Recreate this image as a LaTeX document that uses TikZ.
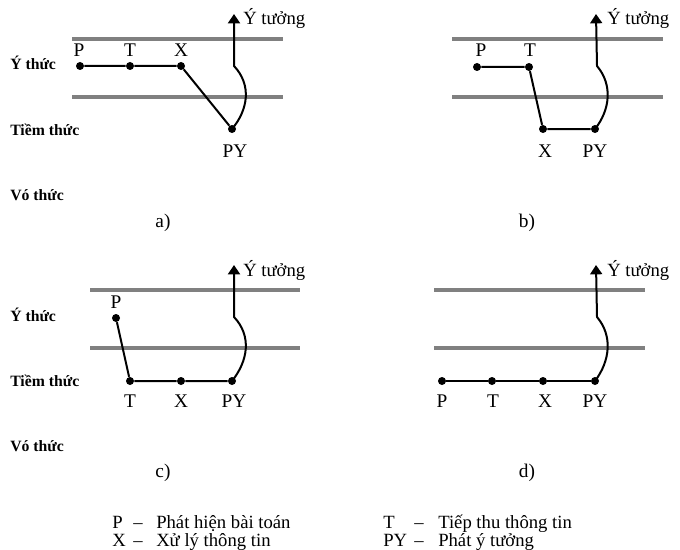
\documentclass[tikz,border=0pt]{standalone}
\usepackage{fontspec}
\setmainfont{Liberation Serif}
\usetikzlibrary{arrows.meta}
\definecolor{levelgray}{RGB}{128,128,128}
\tikzset{
	level/.style={draw=levelgray, line width=3.4pt},
	dot/.style={circle, fill=black, inner sep=0pt, minimum size=6pt},
	link/.style={draw=black, line width=1.5pt},
	idea/.style={draw=black, line width=1.5pt, -{Triangle[width=9pt,length=7pt]}},
	tag/.style={font=\fontsize{14.5}{16}\selectfont, inner sep=0pt, anchor=base},
	zone/.style={font=\bfseries\fontsize{11.8}{13}\selectfont, inner sep=0pt, anchor=base west},
	key/.style={font=\fontsize{14}{16}\selectfont, inner sep=0pt, anchor=base west},
}

\begin{document}
\begin{tikzpicture}[x=0.75pt,y=-0.75pt]
\useasboundingbox (0,0) rectangle (680,549);

% a)
\draw[level] (72,39) -- (283,39);
\draw[level] (72,97) -- (283,97);
\node[dot] (pa) at (80,66) {};
\node[dot] (ta) at (130,66) {};
\node[dot] (xa) at (181,66) {};
\node[dot] (pya) at (232,129) {};
\coordinate (ka) at (234,66);
\coordinate (ua) at (234,14);
\draw[link] (pa) -- (ta) -- (xa) -- (pya);
\draw[idea] (pya.center) .. controls (248,110) and (252,85) .. (ka) -- (ua);
\node[tag] (lpa) at (79,57) {P};
\node[tag] (lta) at (130,57) {T};
\node[tag] (lxa) at (181,57) {X};
\node[tag] (lpya) at (235,157) {PY};
\node[key] (ya) at (243,25) {Ý tưởng};
\node[zone] (ytha) at (10,70) {Ý thức};
\node[zone] (ttha) at (10,135) {Tiềm thức};
\node[zone] (vtha) at (10,200) {Vó thức};
\node[tag] (capa) at (163,227) {a)};

% b)
\draw[level] (452,39) -- (663,39);
\draw[level] (452,97) -- (663,97);
\node[dot] (pb) at (477,67) {};
\node[dot] (tb) at (529,67) {};
\node[dot] (xb) at (543,129) {};
\node[dot] (pyb) at (595,129) {};
\coordinate (kb) at (597,66);
\coordinate (ub) at (596,14);
\draw[link] (pb) -- (tb) -- (xb) -- (pyb);
\draw[idea] (pyb.center) .. controls (610,110) and (613,85) .. (kb) -- (ub);
\node[tag] (lpb) at (481,57) {P};
\node[tag] (ltb) at (530,57) {T};
\node[tag] (lxb) at (545,157) {X};
\node[tag] (lpyb) at (595,157) {PY};
\node[key] (yb) at (607,25) {Ý tưởng};
\node[tag] (capb) at (527,227) {b)};

\begin{scope}[shift={(0,251)}]
% c)
\draw[level] (90,39) -- (300,39);
\draw[level] (90,97) -- (300,97);
\node[dot] (pc) at (116,67) {};
\node[dot] (tc) at (130,130) {};
\node[dot] (xc) at (181,130) {};
\node[dot] (pyc) at (232,130) {};
\coordinate (kc) at (234,66);
\coordinate (uc) at (234,14);
\draw[link] (pc) -- (tc) -- (xc) -- (pyc);
\draw[idea] (pyc.center) .. controls (248,110) and (252,85) .. (kc) -- (uc);
\node[tag] (lpc) at (116,57) {P};
\node[tag] (ltc) at (130,156) {T};
\node[tag] (lxc) at (181,156) {X};
\node[tag] (lpyc) at (234,156) {PY};
\node[key] (yc) at (243,25) {Ý tưởng};
\node[zone] (ythc) at (10,70) {Ý thức};
\node[zone] (tthc) at (10,135) {Tiềm thức};
\node[zone] (vthc) at (10,200) {Vó thức};
\node[tag] (capc) at (163,226) {c)};

% d)
\draw[level] (434,39) -- (645,39);
\draw[level] (434,97) -- (645,97);
\node[dot] (pd) at (442,130) {};
\node[dot] (td) at (492,130) {};
\node[dot] (xd) at (543,130) {};
\node[dot] (pyd) at (595,130) {};
\coordinate (kd) at (597,66);
\coordinate (ud) at (596,14);
\draw[link] (pd) -- (td) -- (xd) -- (pyd);
\draw[idea] (pyd.center) .. controls (610,110) and (613,85) .. (kd) -- (ud);
\node[tag] (lpd) at (442,156) {P};
\node[tag] (ltd) at (493,156) {T};
\node[tag] (lxd) at (545,156) {X};
\node[tag] (lpyd) at (595,156) {PY};
\node[key] (yd) at (607,25) {Ý tưởng};
\node[tag] (capd) at (527,226) {d)};
\end{scope}

% legend
\node[key] (kp) at (112,528) {P};
\node[key] (kpd) at (133,528) {--};
\node[key] (kpt) at (156,528) {Phát hiện bài toán};
\node[key] (kx) at (112,546) {X};
\node[key] (kxd) at (133,546) {--};
\node[key] (kxt) at (156,546) {Xử lý thông tin};
\node[key] (kt) at (383,528) {T};
\node[key] (ktd) at (414,528) {--};
\node[key] (ktt) at (438,528) {Tiếp thu thông tin};
\node[key] (kpy) at (383,546) {PY};
\node[key] (kpyd) at (414,546) {--};
\node[key] (kpyt) at (438,546) {Phát ý tưởng};

\end{tikzpicture}
\end{document}
